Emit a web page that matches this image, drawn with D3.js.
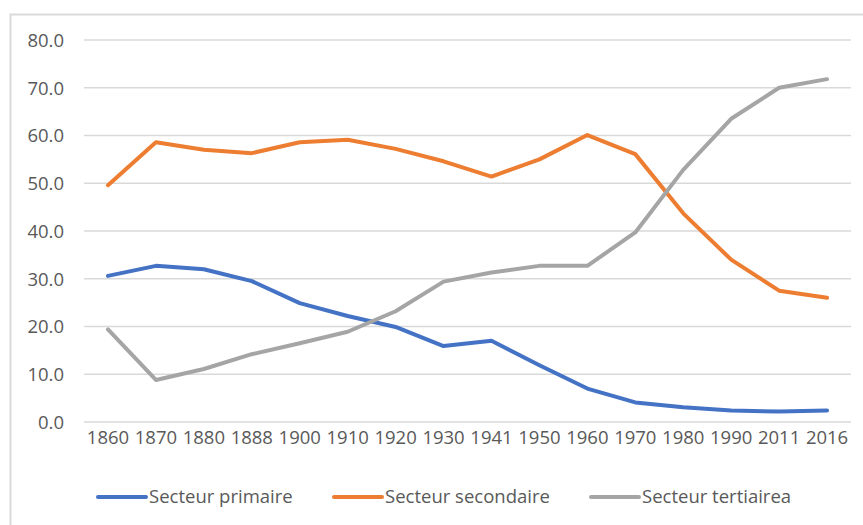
<!DOCTYPE html>
<html>
<head>
<meta charset="utf-8">
<script src="https://cdn.jsdelivr.net/npm/d3@7"></script>
<style>
  body { margin: 0; background: #fff; }
  svg text { font-family: "Open Sans", sans-serif; fill: #595959; }
</style>
</head>
<body>
<svg id="chart" width="863" height="525"></svg>
<script>
// years on the x axis
var years = ["1860","1870","1880","1888","1900","1910","1920","1930","1941","1950","1960","1970","1980","1990","2011","2016"];
var primaire   = [30.6, 32.7, 32.0, 29.5, 24.9, 22.2, 19.9, 15.9, 17.0, 11.9, 7.0, 4.1, 3.1, 2.4, 2.2, 2.4];
var secondaire = [49.6, 58.6, 57.0, 56.3, 58.6, 59.1, 57.2, 54.6, 51.4, 55.0, 60.1, 56.1, 43.7, 34.0, 27.5, 26.0];
var tertiaire  = [19.4, 8.8, 11.1, 14.2, 16.5, 18.9, 23.2, 29.4, 31.3, 32.7, 32.7, 39.7, 52.8, 63.5, 70.0, 71.8];
var yTicks = [0, 10, 20, 30, 40, 50, 60, 70, 80];
var seriesNames = ["Secteur primaire", "Secteur secondaire", "Secteur tertiairea"];
var colors = ["#4472C4", "#ED7D31", "#A5A5A5"];

var series = [primaire, secondaire, tertiaire];
var svg = d3.select("#chart");

// outer chart frame
svg.append("rect")
    .attr("x", 10.5).attr("y", 14.5)
    .attr("width", 900).attr("height", 600)
    .attr("fill", "none").attr("stroke", "#d9d9d9").attr("stroke-width", 2);

var x = d3.scaleBand().domain(years).range([84, 851]);
var y = d3.scaleLinear().domain([0, 80]).range([422, 40]);

var grid = svg.append("g");
grid.selectAll("line")
    .data(yTicks)
    .enter()
    .append("line")
    .attr("x1", 84).attr("x2", 851)
    .attr("y1", function(d){ return y(d); })
    .attr("y2", function(d){ return y(d); })
    .attr("stroke", "#d9d9d9").attr("stroke-width", 1.5);

var yAxis = d3.axisLeft(y).tickValues(yTicks).tickFormat(d3.format(".1f")).tickSize(0).tickPadding(0);
var gy = svg.append("g").attr("transform", "translate(64,0)").call(yAxis);
gy.select(".domain").remove();
gy.selectAll("text").style("font-size", "18.5px").attr("fill", "#595959").attr("dy", "0.35em");

var xAxis = d3.axisBottom(x).tickSize(0).tickPadding(0);
var gx = svg.append("g").attr("transform", "translate(0,431)").call(xAxis);
gx.select(".domain").remove();
gx.selectAll("text").style("font-size", "18.5px").attr("fill", "#595959").attr("dy", "0.71em");

var line = d3.line()
    .x(function(d, i){ return x(years[i]) + x.bandwidth() / 2; })
    .y(function(d){ return y(d); });

series.forEach(function(s, k){
    svg.append("path")
        .datum(s)
        .attr("d", line)
        .attr("fill", "none")
        .attr("stroke", colors[k])
        .attr("stroke-width", 4)
        .attr("stroke-linejoin", "round")
        .attr("stroke-linecap", "round");
});

// legend
var legendX = [98, 334, 591];
var lg = svg.append("g");
seriesNames.forEach(function(name, k){
    lg.append("line")
        .attr("x1", legendX[k]).attr("x2", legendX[k] + 48)
        .attr("y1", 497).attr("y2", 497)
        .attr("stroke", colors[k]).attr("stroke-width", 4)
        .attr("stroke-linecap", "round");
    lg.append("text")
        .attr("x", legendX[k] + 51).attr("y", 497)
        .attr("dy", "0.35em")
        .style("font-size", "18.5px")
        .text(name);
});
</script>
</body>
</html>
